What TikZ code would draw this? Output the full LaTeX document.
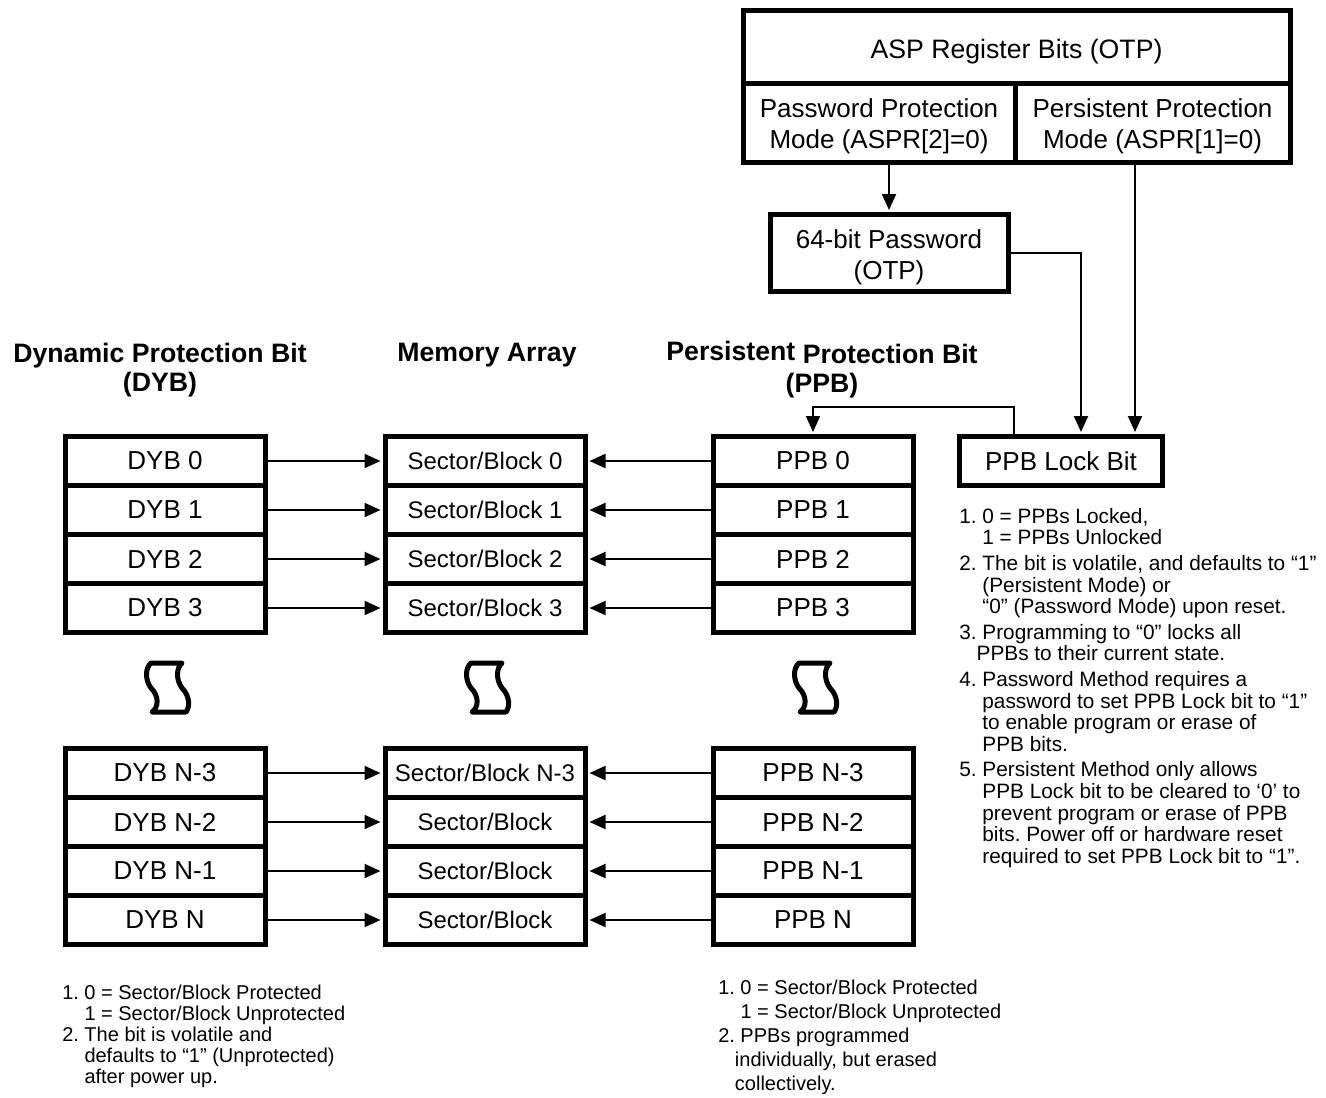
\documentclass[tikz,border=0pt]{standalone}
\usepackage{fontspec}
\setmainfont{Liberation Sans}
\usetikzlibrary{arrows.meta}
\frenchspacing

\begin{document}
\begin{tikzpicture}[x=0.75pt, y=-0.75pt,
    cell/.style={draw, line width=3.75pt, minimum width=150pt, minimum height=36.75pt,
                 inner sep=0pt, align=center, font=\fontsize{19.5}{23.25}\selectfont},
    seccell/.style={cell, font=\fontsize{18}{21}\selectfont},
    boxtext/.style={inner sep=0pt, align=center, font=\fontsize{19.5}{23.25}\selectfont},
    arr/.style={line width=1.5pt, -{Triangle[length=12pt, width=10.5pt]}, shorten >=1.5pt},
    head/.style={align=center, font=\fontsize{20}{21.75}\selectfont\bfseries},
    note/.style={align=left, anchor=north west, inner sep=0pt}]
    \useasboundingbox (0,0) rectangle (1326,1097);

    % ASP register block
    \node[cell, minimum width=410.25pt, minimum height=54.75pt] (asp) at (1016.5,46.5) {};
    \node[cell, minimum width=204pt, minimum height=59.25pt] (pwmode) at (879,122.5) {};
    \node[cell, minimum width=206.25pt, minimum height=59.25pt] (psmode) at (1152.5,122.5) {};
    \node[boxtext, font=\fontsize{20}{23.25}\selectfont] (asptext) at (1016.5,52) {ASP Register Bits (OTP)};
    \node[boxtext] (pwmodetext) at (879,126.5) {Password Protection\\Mode (ASPR[2]=0)};
    \node[boxtext] (psmodetext) at (1152.5,126.5) {Persistent Protection\\Mode (ASPR[1]=0)};

    % password and lock bit
    \node[cell, minimum width=178.5pt, minimum height=57.75pt] (pw) at (889,253) {};
    \node[boxtext] (pwtext) at (889,257) {64-bit Password\\(OTP)};
    \node[cell, minimum width=152.25pt] (lock) at (1061,461) {PPB Lock Bit};

    % column headings
    \node[head] (hdyb) at (160,370) {Dynamic Protection Bit\\(DYB)};
    \node[head] (hmem) at (487,355) {Memory Array};
    \node[head] (hppb) at (822,370) {\raisebox{2.25pt}{Persistent} Protection Bit\\(PPB)};

    % upper rows
    \foreach \i/\y in {0/461,1/510,2/559,3/608}{
        \node[cell] (dyb\i) at (165,\y) {DYB \i};
        \node[seccell] (mem\i) at (485,\y) {Sector/Block \i};
        \node[cell] (ppb\i) at (813,\y) {PPB \i};
        \draw[arr] (dyb\i) -- (mem\i);
        \draw[arr] (ppb\i) -- (mem\i);
    }

    % lower rows
    \foreach \i/\n/\y in {4/N-3/773,5/N-2/822,6/N-1/871,7/N/920}{
        \node[cell] (dyb\i) at (165,\y) {DYB \n};
        \node[cell] (ppb\i) at (813,\y) {PPB \n};
    }
    \node[seccell] (mem4) at (485,773) {Sector/Block N-3};
    \node[seccell] (mem5) at (485,822) {Sector/Block};
    \node[seccell] (mem6) at (485,871) {Sector/Block};
    \node[seccell] (mem7) at (485,920) {Sector/Block};
    \foreach \i in {4,...,7}{
        \draw[arr] (dyb\i) -- (mem\i);
        \draw[arr] (ppb\i) -- (mem\i);
    }

    % break marks
    \foreach \cx in {165,485,813}{
        \draw[line width=3.75pt, line join=round]
            (\cx-14,663) -- (\cx+17,663)
            .. controls (\cx+11,668) and (\cx+11,680) .. (\cx+17,688)
            .. controls (\cx+25,696) and (\cx+25,707) .. (\cx+21,712)
            -- (\cx-13,712)
            .. controls (\cx-6,707) and (\cx-6,696) .. (\cx-14,688)
            .. controls (\cx-20,680) and (\cx-20,668) .. (\cx-14,663) -- cycle;
    }

    % connectors to the lock bit
    \coordinate (lkA) at (1081,0);
    \coordinate (lkB) at (1135,0);
    \coordinate (fb) at (1014,407);
    \draw[arr] (pwmode.south -| pw.north) -- (pw.north);
    \draw[arr] (pw.east) -| (lock.north -| lkA);
    \draw[arr] (psmode.south -| lkB) -- (lock.north -| lkB);
    \draw[arr] (lock.north -| fb) -- (fb) -| (ppb0.north);

    % notes
    \node[note, font=\fontsize{15}{15.75}\selectfont] (dybnote) at (62,985) {1. 0 = Sector/Block Protected\\
        \hphantom{1. }1 = Sector/Block Unprotected\\
        2. The bit is volatile and\\
        \hphantom{2. }defaults to “1” (Unprotected)\\
        \hphantom{2. }after power up.};
    \node[note, font=\fontsize{15}{18}\selectfont] (ppbnote) at (718,980) {1. 0 = Sector/Block Protected\\
        \hphantom{1. }1 = Sector/Block Unprotected\\
        2. PPBs programmed\\
        \hphantom{2.}individually, but erased\\
        \hphantom{2.}collectively.};
    \node[note, font=\fontsize{15.6}{16.2}\selectfont] (locknote) at (959,508) {1. 0 = PPBs Locked,\\
        \hphantom{1. }1 = PPBs Unlocked\\[3pt]
        2. The bit is volatile, and defaults to “1”\\
        \hphantom{2. }(Persistent Mode) or\\
        \hphantom{2. }“0” (Password Mode) upon reset.\\[3pt]
        3. Programming to “0” locks all\\
        \hphantom{3.}PPBs to their current state.\\[3pt]
        4. Password Method requires a\\
        \hphantom{4. }password to set PPB Lock bit to “1”\\
        \hphantom{4. }to enable program or erase of\\
        \hphantom{4. }PPB bits.\\[3pt]
        5. Persistent Method only allows\\
        \hphantom{5. }PPB Lock bit to be cleared to ‘0’ to\\
        \hphantom{5. }prevent program or erase of PPB\\
        \hphantom{5. }bits. Power off or hardware reset\\
        \hphantom{5. }required to set PPB Lock bit to “1”.};
\end{tikzpicture}
\end{document}
